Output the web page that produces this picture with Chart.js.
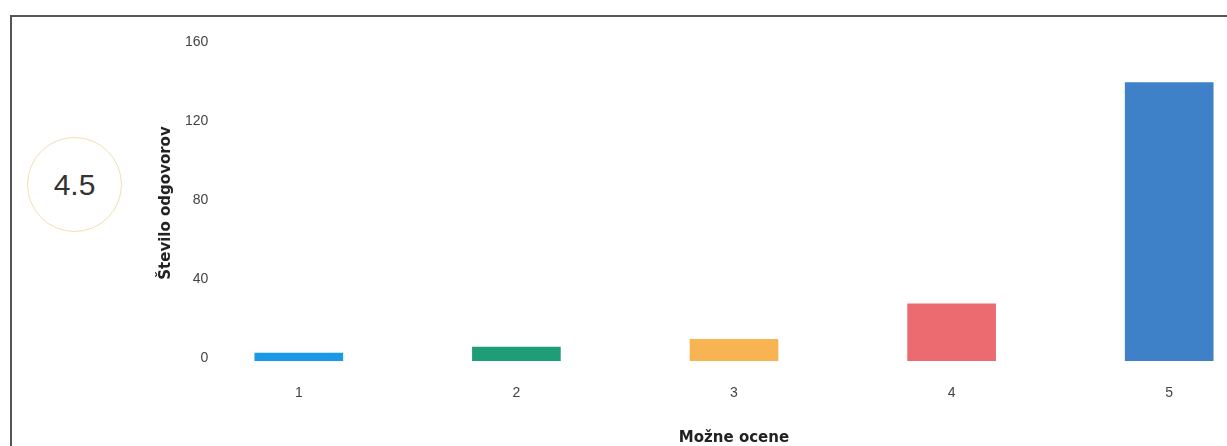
<!DOCTYPE html>
<html>
<head>
<meta charset="utf-8">
<script src="https://cdn.jsdelivr.net/npm/chart.js@4"></script>
<style>
  html, body { margin: 0; padding: 0; background: #fff; overflow: hidden; }
  body { width: 1227px; height: 446px; position: relative; }
  #frame { position: absolute; left: 10px; top: 15px; width: 1300px; height: 500px;
           border-left: 2px solid #555; border-top: 2px solid #555; }
  #wrap { position: absolute; left: 0; top: 0; width: 1278px; height: 446px; }
  #score { position: absolute; left: 27px; top: 137px; width: 93px; height: 93px;
           border: 1.5px solid #f0dfb0; border-radius: 50%;
           font: 30px "Liberation Sans", Arial, sans-serif; color: #333;
           display: flex; align-items: center; justify-content: center; }
</style>
</head>
<body>
<div id="frame"></div>
<div id="score">4.5</div>
<div id="wrap"><canvas id="chart"></canvas></div>
<script>
const ratings = ['1', '2', '3', '4', '5'];
const answerCounts = [4, 7, 11, 29, 141];
const barColors = ['#1a9ae4', '#1f9d76', '#f8b453', '#ec6b70', '#3f81c8'];
const yTicks = [0, 40, 80, 120, 160];

const ctx = document.getElementById('chart').getContext('2d');
new Chart(ctx, {
    type: 'bar',
    data: {
        labels: ratings,
        datasets: [{ data: answerCounts, backgroundColor: barColors, barThickness: 88 }]
    },
    options: {
        responsive: true,
        maintainAspectRatio: false,
        animation: false,
        layout: { padding: { top: 45, right: 0, bottom: 0, left: 0 } },
        plugins: { legend: { display: false }, tooltip: { enabled: false } },
        scales: {
            x: {
                grid: { display: false, drawTicks: false },
                border: { display: false },
                ticks: { color: '#444', padding: 24, font: { family: 'Liberation Sans', size: 14 } },
                title: { display: true, text: 'Možne ocene', color: '#222',
                         font: { family: 'DejaVu Sans', size: 15, weight: 'bold' },
                         padding: { top: 0, bottom: -1 } },
                afterFit: s => { s.height = 85; }
            },
            y: {
                min: 0, max: 160,
                grid: { display: false, drawTicks: false },
                border: { display: false },
                afterBuildTicks: s => { s.ticks = yTicks.map(v => ({ value: v })); },
                ticks: { color: '#444', mirror: true, crossAlign: 'far', padding: -5, labelOffset: -3,
                         font: { family: 'Liberation Sans', size: 14 } },
                title: { display: true, text: 'Število odgovorov', color: '#222',
                         font: { family: 'DejaVu Sans', size: 15, weight: 'bold' },
                         padding: { top: 157, bottom: 0 } },
                afterFit: s => { s.width = 190; }
            }
        }
    }
});
</script>
</body>
</html>
